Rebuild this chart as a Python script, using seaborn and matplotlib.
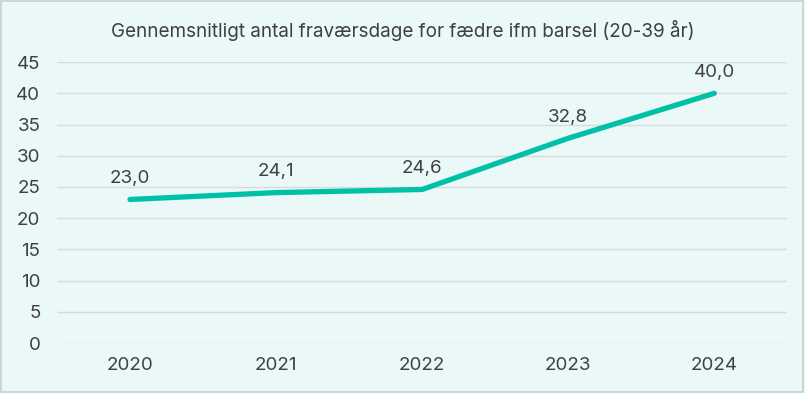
import matplotlib
matplotlib.use("Agg")
import matplotlib.pyplot as plt
import seaborn as sns
import pandas as pd

years = ["2020", "2021", "2022", "2023", "2024"]
values = [23.0, 24.1, 24.6, 32.8, 40.0]
value_labels = ["23,0", "24,1", "24,6", "32,8", "40,0"]
title = "Gennemsnitligt antal fraværsdage for fædre ifm barsel (20-39 år)"

df = pd.DataFrame({"year": years, "value": values})

sns.set_theme(style="white")
plt.rcParams['font.family'] = ['Inter', 'DejaVu Sans']

bg = "#EAF8F7"
fig = plt.figure(figsize=(8.05, 3.93), dpi=100, facecolor=bg)
ax = fig.add_axes([0.0708, 0.127, 0.9072, 0.715])
ax.set_facecolor(bg)

sns.lineplot(data=df, x="year", y="value", ax=ax, color="#00C0A6",
             linewidth=3.8, solid_capstyle="round", solid_joinstyle="round",
             sort=False)

ax.set_xlim(-0.5, len(years) - 0.5)
ax.set_ylim(0, 45)
ax.set_yticks(range(0, 50, 5))
ax.grid(axis="y", color="#D6DCDC", linewidth=1)
ax.set_axisbelow(True)
for s in ax.spines.values():
    s.set_visible(False)
ax.tick_params(axis="both", length=0, labelsize=13.5, colors="#404040")
ax.tick_params(axis="y", pad=12)
ax.tick_params(axis="x", pad=10)
ax.set_xlabel("")
ax.set_ylabel("")

for i, (v, lab) in enumerate(zip(values, value_labels)):
    ax.annotate(lab, (i, v), xytext=(0, 9), textcoords="offset points",
                ha="center", va="bottom", fontsize=13.5, color="#404040")

fig.text(0.5, 0.922, title, ha="center", va="center", fontsize=13.6, color="#404040")

border = plt.Rectangle((0.001, 0.003), 0.997, 0.994, transform=fig.transFigure,
                       fill=False, edgecolor="#C8D0D0", linewidth=1.2)
fig.patches.append(border)

fig.savefig("out.png", dpi=100, facecolor=bg)
